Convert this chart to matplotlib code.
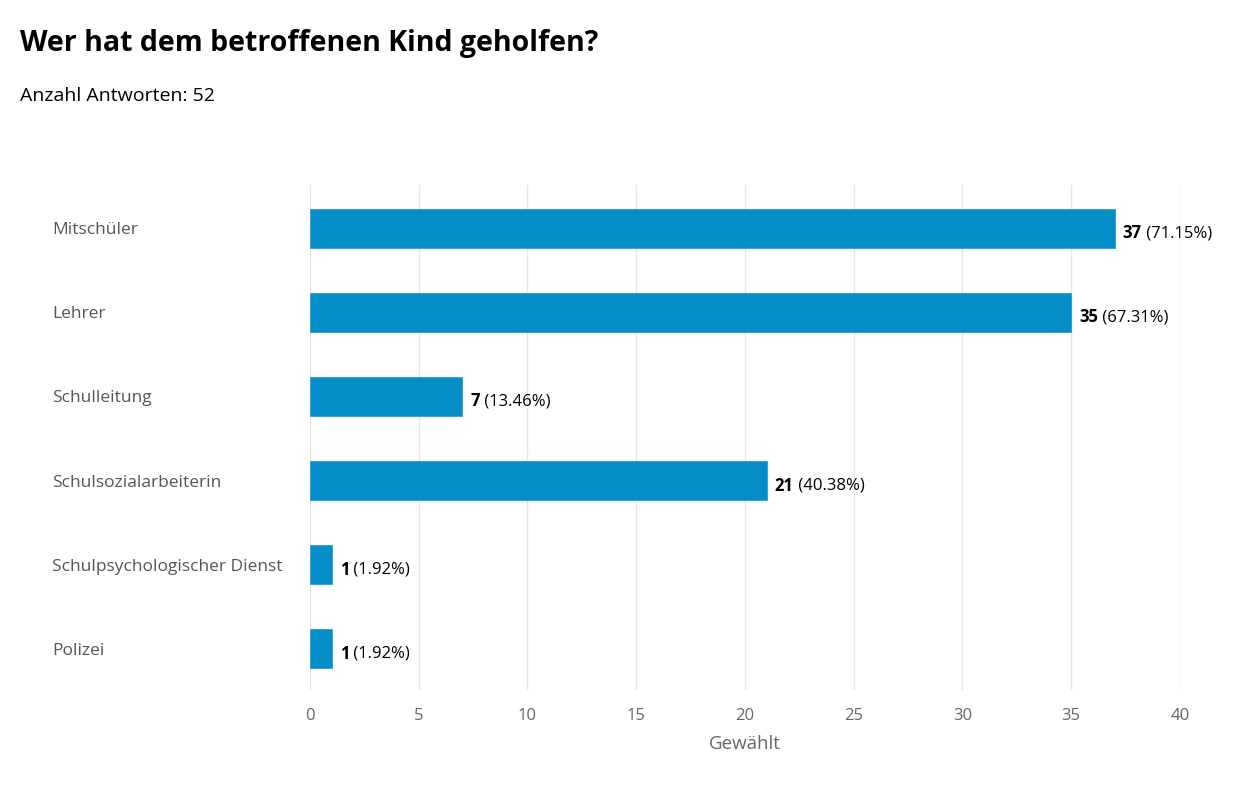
import matplotlib.pyplot as plt

plt.rcParams['font.family'] = ['Open Sans', 'DejaVu Sans']

kategorien = ['Mitschüler', 'Lehrer', 'Schulleitung', 'Schulsozialarbeiterin',
              'Schulpsychologischer Dienst', 'Polizei']
anzahl = [37, 35, 7, 21, 1, 1]
prozent = ['71.15%', '67.31%', '13.46%', '40.38%', '1.92%', '1.92%']
xticks = [0, 5, 10, 15, 20, 25, 30, 35, 40]

fig = plt.figure(figsize=(12.6, 8.06), dpi=100)
ax = fig.add_axes([0.246, 0.144, 0.6905, 0.627])

pos = list(range(len(kategorien)))
ax.barh(pos, anzahl, height=0.46, color='#058DC7', edgecolor='#2a9fd6',
        linewidth=0.6, zorder=3)
ax.set_ylim(5.49, -0.52)
ax.set_xlim(0, 40)
ax.set_xticks(xticks)
ax.set_xticklabels([str(t) for t in xticks])
ax.grid(axis='x', color='#e6e6e6', linewidth=1, zorder=0)
ax.set_yticks([])
for s in ax.spines.values():
    s.set_visible(False)
ax.tick_params(axis='x', length=0, pad=13, labelsize=12, labelcolor='#666666')
ax.set_xlabel('Gewählt', fontsize=13.5, color='#666666', labelpad=8)

# Kategorien links, linksbuendig
for i, name in enumerate(kategorien):
    ax.annotate(name, xy=(0, i), xycoords=('figure fraction', 'data'),
                xytext=(52, -2), textcoords='offset pixels',
                fontsize=12.5, color='#555555', va='center', ha='left')

# Werte: fett die Anzahl, normal der Prozentwert
for i, (n, p) in enumerate(zip(anzahl, prozent)):
    t1 = ax.annotate(str(n), xy=(n, i), xytext=(8, -5), textcoords='offset pixels',
                     fontsize=12, fontweight='bold', color='#000000',
                     va='center', ha='left')
    ax.annotate(' (' + p + ')', xy=(1, 0.5), xycoords=t1, va='center', ha='left',
                fontsize=12, color='#000000')

fig.text(20 / 1260, 1 - 43 / 806, 'Wer hat dem betroffenen Kind geholfen?',
         fontsize=20.5, fontweight='bold', color='#000000', va='center', ha='left')
fig.text(20 / 1260, 1 - 96 / 806, 'Anzahl Antworten: 52',
         fontsize=14, color='#000000', va='center', ha='left')

fig.savefig('out.png', dpi=100)
